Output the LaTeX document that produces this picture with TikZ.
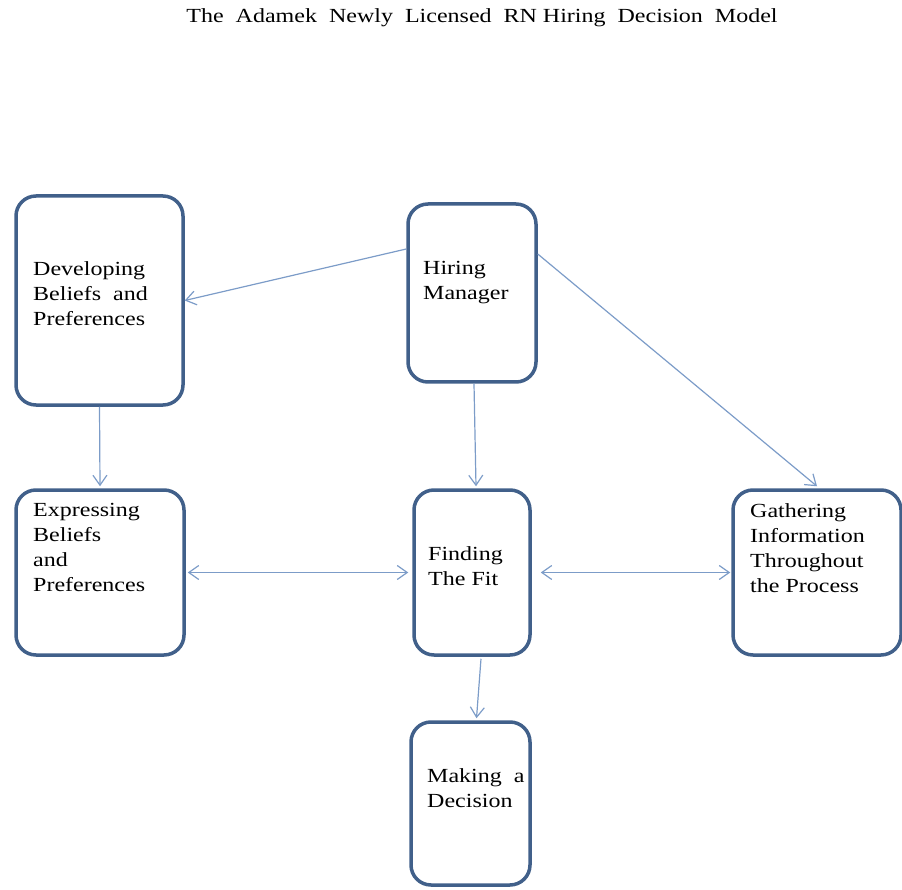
\documentclass[tikz,border=0pt]{standalone}
\usepackage{fontspec}
\setmainfont{Liberation Serif}[FakeStretch=1.2]
\usetikzlibrary{arrows.meta}
\definecolor{boxblue}{HTML}{41608A}
\definecolor{lineblue}{HTML}{7C9CC8}

\begin{document}
\begin{tikzpicture}[x=1pt, y=-1pt, every node/.style={inner sep=0pt},
    >={Straight Barb[length=10pt,width=14pt]},
    box/.style={draw=boxblue, line width=3.5pt, rounded corners=20pt},
    txt/.style={anchor=north west, align=left, font=\fontsize{20}{25}\selectfont},
    arr/.style={draw=lineblue, line width=1.2pt}]
  \useasboundingbox (0,0) rectangle (902,890);   % page size of the reference
  \node [font=\fontsize{20}{25}\selectfont] (title) at (482,18)
        {The\ \ Adamek\ \ Newly\ \ Licensed\ \ RN Hiring\ \ Decision\ \ Model};

  \node [box, minimum width=167pt, minimum height=209pt] (db) at (99.5,300.5) {};
  \node [box, minimum width=128pt, minimum height=178pt] (hm) at (472,293) {};
  \node [box, minimum width=168pt, minimum height=165pt] (eb) at (100,572.5) {};
  \node [box, minimum width=116pt, minimum height=165pt] (ff) at (472,572.5) {};
  \node [box, minimum width=168pt, minimum height=165pt] (gi) at (817,572.5) {};
  \node [box, minimum width=119pt, minimum height=163pt] (mk) at (470.5,803.5) {};

  \node [txt] (dbt) at (33,261) {Developing\\Beliefs\ \ and\\Preferences};
  \node [txt] (hmt) at (423,261) {Hiring\\Manager};
  \node [txt] (ebt) at (33,503) {Expressing\\Beliefs\\and\\Preferences};
  \node [txt] (fft) at (428,546) {Finding\\The Fit};
  \node [txt] (git) at (750,503) {Gathering\\Information\\Throughout\\the Process};
  \node [txt] (mkt) at (427,768) {Making\ \ a\\Decision};

  \draw [arr, ->] ([yshift=44pt]hm.west) -- (db.east);
  \draw [arr, ->] ([yshift=39pt]hm.east) -- ([yshift=2pt]gi.north);
  \draw [arr, ->] ([xshift=2pt]hm.south) -- ([xshift=4pt,yshift=2pt]ff.north);
  \draw [arr, ->] (db.south) -- ([yshift=2pt]eb.north);
  \draw [arr, <->, shorten <=2pt, shorten >=4pt] (eb.east) -- (ff.west);
  \draw [arr, <->, shorten <=9pt, shorten >=1pt] (ff.east) -- (gi.west);
  \draw [arr, ->] ([xshift=9pt,yshift=-2pt]ff.south) -- ([xshift=6pt,yshift=2pt]mk.north);
\end{tikzpicture}
\end{document}
